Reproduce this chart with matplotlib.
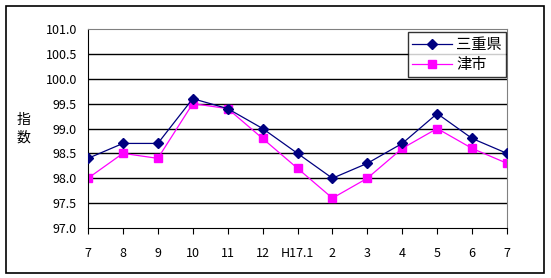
import matplotlib
matplotlib.use("Agg")
import matplotlib.pyplot as plt
from matplotlib.patches import Rectangle

plt.rcParams['font.family'] = ['Noto Sans CJK JP', 'DejaVu Sans']

months = ['7', '8', '9', '10', '11', '12', 'H17.1', '2', '3', '4', '5', '6', '7']
mie = [98.4, 98.7, 98.7, 99.6, 99.4, 99.0, 98.5, 98.0, 98.3, 98.7, 99.3, 98.8, 98.5]
tsu = [98.0, 98.5, 98.4, 99.5, 99.4, 98.8, 98.2, 97.6, 98.0, 98.6, 99.0, 98.6, 98.3]
yticks = [97.0, 97.5, 98.0, 98.5, 99.0, 99.5, 100.0, 100.5, 101.0]

W, H = 551, 278
fig = plt.figure(figsize=(W/100, H/100), dpi=100)
fig.patches.append(Rectangle((6/W, 5/H), 538/W, 267/H, transform=fig.transFigure,
                             fill=False, edgecolor='black', linewidth=1.2))

ax = fig.add_axes([88/W, 1 - 228/H, (507-88)/W, (228-29)/H])
x = range(len(months))

for v in yticks[1:-1]:
    ax.axhline(v, color='black', linewidth=1, zorder=1)

ax.plot(x, mie, color='#000080', linewidth=0.9, marker='D', markersize=5,
        label='三重県', zorder=3)
ax.plot(x, tsu, color='#FF00FF', linewidth=0.9, marker='s', markersize=6,
        label='津市', zorder=2)

ax.set_xlim(0, len(months) - 1)
ax.set_ylim(97.0, 101.0)
ax.set_yticks(yticks)
ax.set_yticklabels([f'{v:.1f}' for v in yticks], fontsize=9)
ax.set_xticks(list(x))
ax.set_xticklabels(months, fontsize=9)
ax.tick_params(axis='y', length=0, pad=8)
ax.tick_params(axis='x', length=4, direction='out', pad=10)

for s in ['top', 'right']:
    ax.spines[s].set_color('#808080')
for s in ['left', 'bottom']:
    ax.spines[s].set_color('black')

ax.text(-0.155, 0.5, '指\n数', transform=ax.transAxes, fontsize=10,
        ha='center', va='center', linespacing=1.3)

leg = ax.legend(loc='upper right', bbox_to_anchor=(0.997, 0.983), fontsize=11,
                frameon=True, fancybox=False, edgecolor='black',
                handlelength=2.6, borderpad=0.25, labelspacing=0.2,
                handletextpad=0.3, borderaxespad=0)
leg.get_frame().set_linewidth(1)

fig.savefig('out.png', dpi=100)
